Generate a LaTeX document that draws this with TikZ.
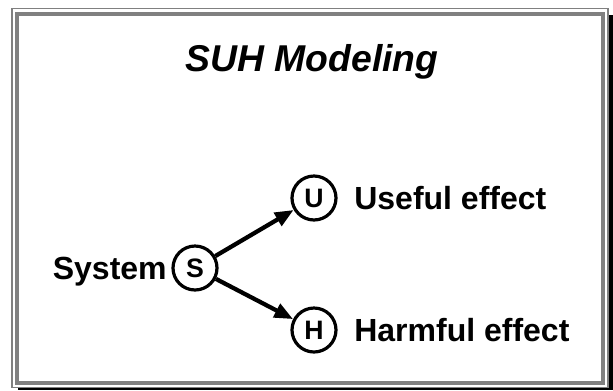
\documentclass[tikz,border=0pt]{standalone}
\usepackage{fontspec}
\setmainfont{Liberation Sans}
\usetikzlibrary{arrows.meta,positioning}
\definecolor{framegray}{HTML}{808080}

\begin{document}
\begin{tikzpicture}[
    x=0.75pt,y=-0.75pt,
    every node/.style={font=\bfseries\fontsize{24}{28}\selectfont,
        text height=17.2pt,text depth=0pt},
    letter/.style={circle,draw,line width=2.4pt,minimum size=33pt,inner sep=0pt,
        font=\bfseries\fontsize{20}{24}\selectfont,text height=14.3pt},
    effect/.style={-{Triangle[length=14pt,width=11pt]},line width=3.2pt}]
    \useasboundingbox (0,0) rectangle (613,390);
    % frame with shadow
    \fill[black] (609,15) rectangle (613,390);
    \fill[black] (18,388.3) rectangle (613,390);
    \draw[framegray,line width=1.2pt] (11.8,8.3) rectangle (607.8,387.5);
    \draw[framegray,line width=3pt] (17,13.5) rectangle (603.3,383);
    % title
    \node (title) at (312,60)
        {\fontsize{28}{33}\selectfont\bfseries\itshape SUH Modeling};
    % the model
    \node[letter] (s) at (195,268) {S};
    \node[letter] (u) at (314,198) {U};
    \node[letter] (h) at (314,330) {H};
    \node[left=0pt of s] (system) {System};
    \node[right=9pt of u] (useful) {Useful effect};
    \node[right=9pt of h] (harmful) {Harmful effect};
    \draw[effect] (s) -- (u);
    \draw[effect] (s) -- (h);
\end{tikzpicture}
\end{document}
